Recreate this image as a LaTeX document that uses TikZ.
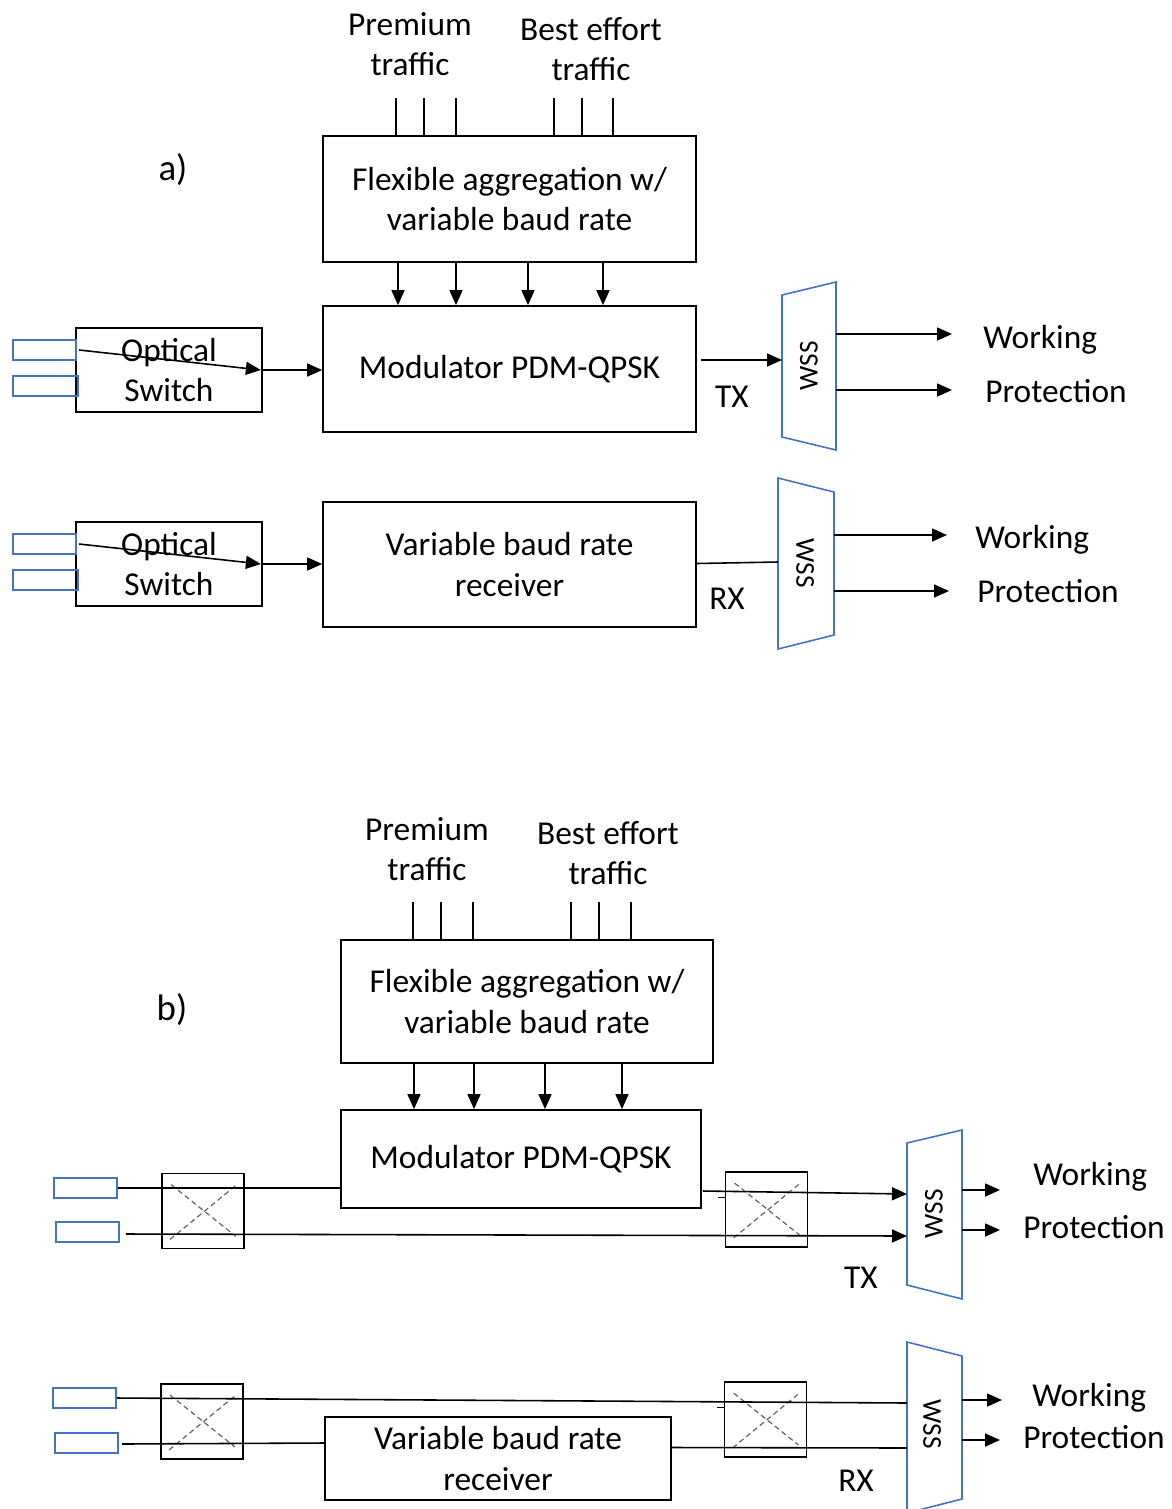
\documentclass[tikz,border=0pt]{standalone}
\usepackage{fontspec}
\setmainfont{Carlito}
\usepackage{xcolor}
\usepackage{tikz}
\usetikzlibrary{arrows.meta}
\definecolor{wssblue}{HTML}{4472C4}

\begin{document}
\begin{tikzpicture}[x=0.02cm, y=-0.02cm,
    every node/.style={font=\fontsize{19}{22.8}\selectfont},
    block/.style={draw, line width=1pt, align=center, inner sep=0pt},
    port/.style={draw=wssblue, line width=0.9pt, minimum width=1.26cm, minimum height=0.4cm, inner sep=0pt},
    xbar/.style={draw, line width=1pt, minimum width=1.64cm, minimum height=1.5cm, inner sep=0pt},
    xline/.style={black!60, densely dashed, line width=0.7pt},
    wss/.style={draw=wssblue, line width=0.9pt},
    wsslabel/.style={font=\fontsize{15.5}{18}\selectfont, inner sep=0pt},
    lbl/.style={align=center, inner sep=0pt},
    wire/.style={line width=0.9pt},
    arr/.style={line width=0.9pt, -{Triangle[length=3mm,width=2.6mm]}}]

    \useasboundingbox (0,0) rectangle (1172,1509);

    % ---------------- a) ----------------
    \node[lbl, font=\fontsize{21}{24}\selectfont] (partA) at (173,170) {a)};

    % Traffic labels
    \node[lbl] (premA) at (410,44) {Premium\\traffic};
    \node[lbl] (bestA) at (591,49) {Best effort\\traffic};

    % Boxes
    \node[block, minimum width=7.46cm, minimum height=2.52cm] (aggA) at (509.5,199) {Flexible aggregation w/\\variable baud rate};
    \node[block, minimum width=7.46cm, minimum height=2.52cm] (modA) at (509.5,369) {Modulator PDM-QPSK};
    \node[block, minimum width=7.46cm, minimum height=2.5cm] (rxA) at (509.5,564.5) {Variable baud rate\\receiver};
    \node[block, minimum width=3.72cm, minimum height=1.68cm] (swA) at (169,370) {Optical\\Switch};
    \node[block, minimum width=3.72cm, minimum height=1.68cm] (swB) at (169,564) {Optical\\Switch};

    % Ports in front of the switches
    \node[port] (pA1) at (44.5,350) {};
    \node[port, minimum width=1.3cm] (pA2) at (45.5,386) {};
    \node[port] (pA3) at (44.5,544) {};
    \node[port, minimum width=1.3cm] (pA4) at (45.5,580) {};

    % Input lines and aggregation outputs
    \foreach \x in {396,424,456,554,582,613}
        \draw[wire] (\x,98) -- (\x,0 |- aggA.north);
    \foreach \x in {398,456,528,603}
        \draw[arr] (\x,0 |- aggA.south) -- (\x,0 |- modA.north);

    % Switch paths
    \draw[arr] ([shift={(4,-20)}]swA.west) -- ([shift={(-2,0)}]swA.east);
    \draw[arr] (swA.east) -- (swA.east -| modA.west);
    \draw[arr] ([shift={(4,-20)}]swB.west) -- ([shift={(-2,0)}]swB.east);
    \draw[arr] (swB.east) -- (swB.east -| rxA.west);

    % WSS (TX)
    \coordinate (wA-tl) at (782,295);
    \coordinate (wA-tr) at (836,282);
    \coordinate (wA-br) at (836,450);
    \coordinate (wA-bl) at (782,437);
    \draw[wss] (wA-tl) -- (wA-tr) -- (wA-br) -- (wA-bl) -- cycle;
    \node[wsslabel, rotate=90] (wA) at (809,366) {WSS};
    \coordinate (wA-in) at (782,360);
    \coordinate (wA-o1) at (836,334);
    \coordinate (wA-o2) at (836,390);

    \draw[arr] ([shift={(4,-9)}]modA.east) -- (wA-in);
    \node[lbl] (txA) at (732,397) {TX};
    \node[lbl, anchor=base west] (workA) at (983,348) {Working};
    \node[lbl, anchor=base west] (protA) at (985,402) {Protection};
    \draw[arr, shorten >=0.62cm] (wA-o1) -- (wA-o1 -| workA.west);
    \draw[arr, shorten >=0.66cm] (wA-o2) -- (wA-o2 -| protA.west);

    % WSS (RX)
    \coordinate (wR-tl) at (778,478);
    \coordinate (wR-tr) at (834,492);
    \coordinate (wR-br) at (834,635);
    \coordinate (wR-bl) at (778,649);
    \draw[wss] (wR-tl) -- (wR-tr) -- (wR-br) -- (wR-bl) -- cycle;
    \node[wsslabel, rotate=-90] (wR) at (805,563) {WSS};
    \coordinate (wR-in) at (778,562);
    \coordinate (wR-o1) at (834,535);
    \coordinate (wR-o2) at (834,591);

    \draw[wire] ([shift={(0,-1)}]rxA.east) -- (wR-in);
    \node[lbl] (rxlA) at (727,599) {RX};
    \node[lbl, anchor=base west] (workR) at (975,548) {Working};
    \node[lbl, anchor=base west] (protR) at (977,602) {Protection};
    \draw[arr, shorten >=0.56cm] (wR-o1) -- (wR-o1 -| workR.west);
    \draw[arr, shorten >=0.56cm] (wR-o2) -- (wR-o2 -| protR.west);

    % ---------------- b) ----------------
    \node[lbl, font=\fontsize{21}{24}\selectfont] (partB) at (172,1010) {b)};

    % Traffic labels
    \node[lbl] (premB) at (427,849) {Premium\\traffic};
    \node[lbl] (bestB) at (608,853) {Best effort\\traffic};

    % Boxes
    \node[block, minimum width=7.44cm, minimum height=2.46cm] (aggB) at (527,1001.5) {Flexible aggregation w/\\variable baud rate};
    \node[block, minimum width=7.2cm, minimum height=1.96cm] (modB) at (521,1159) {Modulator PDM-QPSK};
    \node[block, minimum width=6.92cm, minimum height=1.66cm] (rxB) at (498,1458.5) {Variable baud rate\\receiver};

    % Crossbar switches
    \node[xbar] (cbB1) at (203,1211) {};
    \node[xbar] (cbB2) at (766.5,1209.5) {};
    \node[xbar] (cbB3) at (202,1421.5) {};
    \node[xbar] (cbB4) at (765.5,1419.5) {};
    \foreach \n in {cbB1,cbB2,cbB3,cbB4} {
        \draw[xline] ([shift={(10,12)}]\n.north west) -- ([shift={(-9,-13)}]\n.south east);
        \draw[xline] ([shift={(9,-10)}]\n.south west) -- ([shift={(-8,12)}]\n.north east);
    }

    % Ports
    \node[port] (pB1) at (85.5,1188) {};
    \node[port] (pB2) at (87.5,1232) {};
    \node[port] (pB3) at (84.5,1398) {};
    \node[port] (pB4) at (86.5,1443) {};

    % Input lines and aggregation outputs
    \foreach \x in {413,441,473,571,599,631}
        \draw[wire] (\x,902) -- (\x,0 |- aggB.north);
    \foreach \x in {414,474,545,622}
        \draw[arr] (\x,0 |- aggB.south) -- (\x,0 |- modB.north);

    % WSS (TX)
    \coordinate (wB-tl) at (907,1143);
    \coordinate (wB-tr) at (962,1130);
    \coordinate (wB-br) at (962,1299);
    \coordinate (wB-bl) at (907,1285);
    \draw[wss] (wB-tl) -- (wB-tr) -- (wB-br) -- (wB-bl) -- cycle;
    \node[wsslabel, rotate=90] (wB) at (934,1214) {WSS};
    \coordinate (wB-in1) at (907,1194);
    \coordinate (wB-in2) at (907,1236);
    \coordinate (wB-o1) at (962,1190);
    \coordinate (wB-o2) at (962,1230);

    % TX paths
    \draw[wire] (pB1.east) -- (pB1.east -| modB.west);
    \draw[arr] ([shift={(1,32)}]modB.east) -- (wB-in1);
    \draw[wire] ([shift={(-7,-12)}]cbB2.west) -- ([shift={(0,-12)}]cbB2.west);
    \draw[arr] ([shift={(6,2)}]pB2.east) -- (wB-in2);

    \node[lbl] (txB) at (861,1278) {TX};
    \node[lbl, anchor=base west] (workB) at (1033,1185) {Working};
    \node[lbl, anchor=base west] (protB) at (1023,1238) {Protection};
    \draw[arr, shorten >=0.66cm] (wB-o1) -- (wB-o1 -| workB.west);
    \draw[arr, shorten >=0.46cm] (wB-o2) -- (wB-o2 -| protB.west);

    % WSS (RX)
    \coordinate (wS-tl) at (907,1342);
    \coordinate (wS-tr) at (962,1356);
    \coordinate (wS-br) at (962,1499);
    \coordinate (wS-bl) at (907,1513);
    \draw[wss] (wS-tl) -- (wS-tr) -- (wS-br) -- (wS-bl) -- cycle;
    \node[wsslabel, rotate=-90] (wS) at (932,1424) {WSS};
    \coordinate (wS-in1) at (907,1403);
    \coordinate (wS-in2) at (907,1448);
    \coordinate (wS-o1) at (962,1400);
    \coordinate (wS-o2) at (962,1440);

    % RX paths
    \draw[wire] (pB3.east) -- (wS-in1);
    \draw[wire] ([shift={(3,1)}]pB4.east) -- (pB4.east -| rxB.west);
    \draw[wire] ([shift={(0,-11)}]rxB.east) -- (wS-in2);
    \draw[wire] ([shift={(-7,-12)}]cbB4.west) -- ([shift={(0,-12)}]cbB4.west);

    \node[lbl] (rxlB) at (856,1481) {RX};
    \node[lbl, anchor=base west] (workS) at (1032,1406) {Working};
    \node[lbl, anchor=base west] (protS) at (1023,1448) {Protection};
    \draw[arr, shorten >=0.6cm] (wS-o1) -- (wS-o1 -| workS.west);
    \draw[arr, shorten >=0.46cm] (wS-o2) -- (wS-o2 -| protS.west);
\end{tikzpicture}
\end{document}
